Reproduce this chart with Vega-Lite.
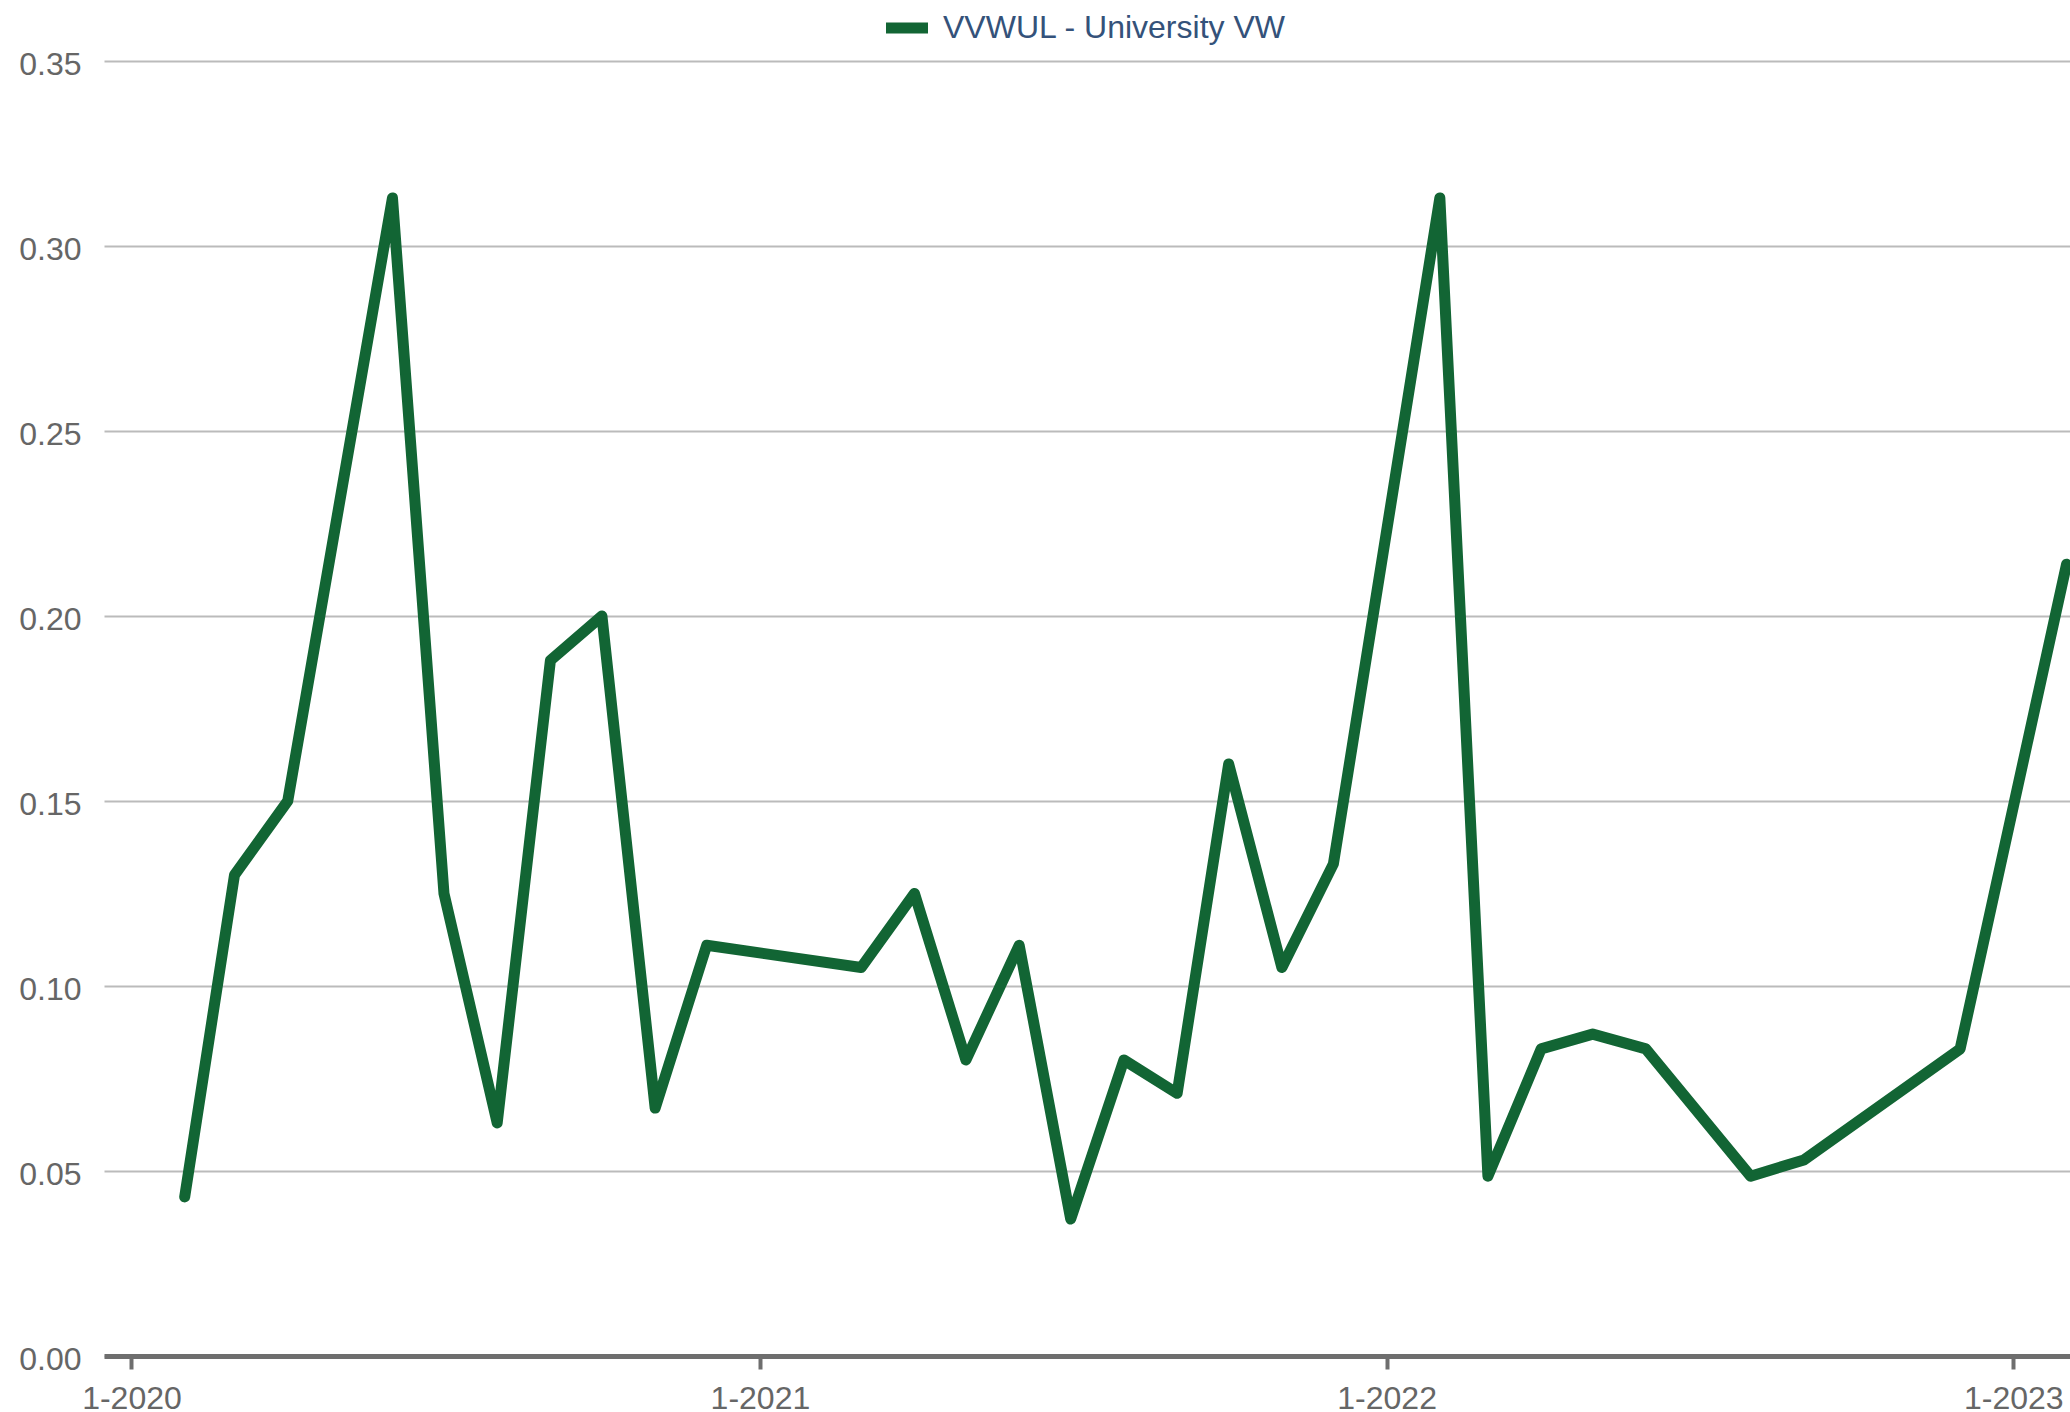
{
  "$schema": "https://vega.github.io/schema/vega-lite/v6.json",
  "autosize": {"type": "none"},
  "width": 1966,
  "height": 1295,
  "padding": {"left": 104, "top": 61, "right": 0, "bottom": 56},
  "background": "white",
  "config": {"view": {"stroke": null}, "font": "Liberation Sans"},
  "data": {
    "values": [
      {"date": "2020-02-01T00:00:00", "value": 0.043, "series": "VVWUL - University VW"},
      {"date": "2020-03-01T00:00:00", "value": 0.130, "series": "VVWUL - University VW"},
      {"date": "2020-04-01T00:00:00", "value": 0.150, "series": "VVWUL - University VW"},
      {"date": "2020-06-01T00:00:00", "value": 0.313, "series": "VVWUL - University VW"},
      {"date": "2020-07-01T00:00:00", "value": 0.125, "series": "VVWUL - University VW"},
      {"date": "2020-08-01T00:00:00", "value": 0.063, "series": "VVWUL - University VW"},
      {"date": "2020-09-01T00:00:00", "value": 0.188, "series": "VVWUL - University VW"},
      {"date": "2020-10-01T00:00:00", "value": 0.200, "series": "VVWUL - University VW"},
      {"date": "2020-11-01T00:00:00", "value": 0.067, "series": "VVWUL - University VW"},
      {"date": "2020-12-01T00:00:00", "value": 0.111, "series": "VVWUL - University VW"},
      {"date": "2021-03-01T00:00:00", "value": 0.105, "series": "VVWUL - University VW"},
      {"date": "2021-04-01T00:00:00", "value": 0.125, "series": "VVWUL - University VW"},
      {"date": "2021-05-01T00:00:00", "value": 0.080, "series": "VVWUL - University VW"},
      {"date": "2021-06-01T00:00:00", "value": 0.111, "series": "VVWUL - University VW"},
      {"date": "2021-07-01T00:00:00", "value": 0.037, "series": "VVWUL - University VW"},
      {"date": "2021-08-01T00:00:00", "value": 0.080, "series": "VVWUL - University VW"},
      {"date": "2021-09-01T00:00:00", "value": 0.071, "series": "VVWUL - University VW"},
      {"date": "2021-10-01T00:00:00", "value": 0.160, "series": "VVWUL - University VW"},
      {"date": "2021-11-01T00:00:00", "value": 0.105, "series": "VVWUL - University VW"},
      {"date": "2021-12-01T00:00:00", "value": 0.133, "series": "VVWUL - University VW"},
      {"date": "2022-02-01T00:00:00", "value": 0.313, "series": "VVWUL - University VW"},
      {"date": "2022-03-01T00:00:00", "value": 0.0486, "series": "VVWUL - University VW"},
      {"date": "2022-04-01T00:00:00", "value": 0.083, "series": "VVWUL - University VW"},
      {"date": "2022-05-01T00:00:00", "value": 0.087, "series": "VVWUL - University VW"},
      {"date": "2022-06-01T00:00:00", "value": 0.083, "series": "VVWUL - University VW"},
      {"date": "2022-08-01T00:00:00", "value": 0.0486, "series": "VVWUL - University VW"},
      {"date": "2022-09-01T00:00:00", "value": 0.053, "series": "VVWUL - University VW"},
      {"date": "2022-12-01T00:00:00", "value": 0.083, "series": "VVWUL - University VW"},
      {"date": "2023-02-01T00:00:00", "value": 0.214, "series": "VVWUL - University VW"}
    ]
  },
  "mark": {"type": "line", "strokeWidth": 11, "strokeCap": "round", "strokeJoin": "round", "clip": false},
  "encoding": {
    "x": {
      "field": "date", "type": "temporal",
      "scale": {"domain": [{"year": 2019, "month": 12, "date": 16}, {"year": 2023, "month": 2, "date": 3}]},
      "axis": {
        "title": null,
        "values": [{"year": 2020, "month": 1, "date": 1}, {"year": 2021, "month": 1, "date": 1}, {"year": 2022, "month": 1, "date": 1}, {"year": 2023, "month": 1, "date": 1}],
        "format": "%-m-%Y",
        "grid": false,
        "domainColor": "#6e6e6e", "domainWidth": 5,
        "tickColor": "#6e6e6e", "tickWidth": 4, "tickSize": 13,
        "labelFontSize": 32, "labelColor": "#666666", "labelPadding": 14,
        "labelFont": "Liberation Sans", "labelFlush": false, "labelOverlap": false
      }
    },
    "y": {
      "field": "value", "type": "quantitative",
      "scale": {"domain": [0, 0.35], "nice": false, "zero": true},
      "axis": {
        "title": null,
        "values": [0, 0.05, 0.1, 0.15, 0.2, 0.25, 0.3, 0.35],
        "format": ".2f",
        "domain": false, "ticks": false,
        "gridColor": "#bbbbbb", "gridWidth": 2,
        "labelFontSize": 32, "labelColor": "#666666", "labelPadding": 23,
        "labelFont": "Liberation Sans", "labelOffset": 3, "labelFlush": false
      }
    },
    "color": {
      "field": "series", "type": "nominal",
      "scale": {"range": ["#126534"]},
      "legend": {
        "title": null,
        "orient": "none",
        "legendX": 782,
        "legendY": -54,
        "padding": 0,
        "symbolType": "M-1,-0.26L1,-0.26L1,0.26L-1,0.26Z",
        "symbolSize": 1764,
        "symbolStrokeWidth": 0,
        "labelFontSize": 32,
        "labelLimit": 0,
        "labelFont": "Liberation Sans",
        "labelColor": "#34527a",
        "labelOffset": 15,
        "encode": {"symbols": {"update": {"fill": {"value": "#126534"}, "strokeWidth": {"value": 0}, "opacity": {"value": 1}}}}
      }
    }
  }
}
